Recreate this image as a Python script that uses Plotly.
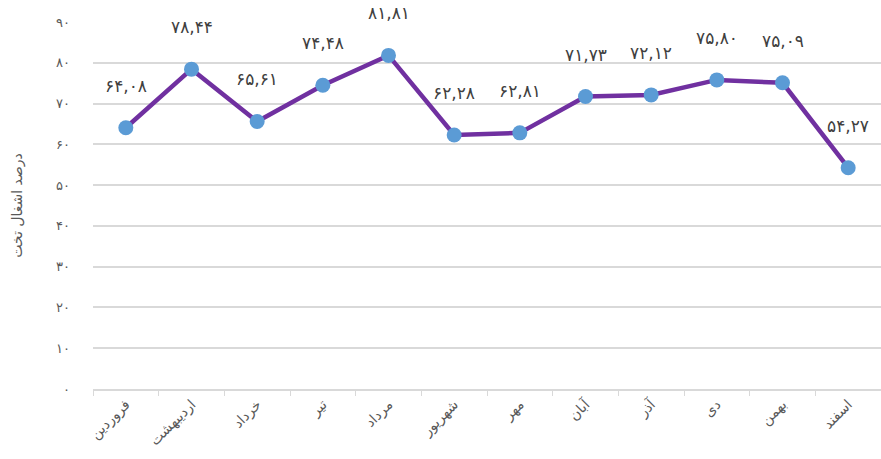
import plotly.graph_objects as go

months = ["فروردین", "اردیبهشت", "خرداد", "تیر", "مرداد", "شهریور",
          "مهر", "آبان", "آذر", "دی", "بهمن", "اسفند"]
occupancy = [64.08, 78.44, 65.61, 74.48, 81.81, 62.28,
             62.81, 71.73, 72.12, 75.80, 75.09, 54.27]
y_ticks = [0, 10, 20, 30, 40, 50, 60, 70, 80, 90]
y_title = "درصد اشغال تخت"

FA = str.maketrans("0123456789", "۰۱۲۳۴۵۶۷۸۹")


def fa(s):
    return str(s).translate(FA)


labels = [fa(f"{v:.2f}".replace(".", ",")) for v in occupancy]

fig = go.Figure()
fig.add_trace(go.Scatter(
    x=months, y=occupancy, mode="lines+markers",
    line=dict(color="#7030A0", width=4.5),
    marker=dict(color="#5B9BD5", size=15, line=dict(width=0)),
    hoverinfo="skip", cliponaxis=False,
))

for m, v, t in zip(months, occupancy, labels):
    fig.add_annotation(x=m, y=v, text=t, showarrow=False, yshift=42,
                       font=dict(family="DejaVu Sans", size=17, color="#404040"))

fig.update_layout(
    width=881, height=459,
    margin=dict(l=93, r=0, t=22, b=70),
    paper_bgcolor="white", plot_bgcolor="white",
    showlegend=False,
    font=dict(family="DejaVu Sans", color="#595959"),
)
fig.update_xaxes(
    automargin=False,
    range=[-0.5, len(months) - 0.5],
    tickangle=-45, tickfont=dict(size=14, color="#595959"),
    showline=True, linecolor="#D9D9D9", linewidth=1.5,
    ticks="outside", tickson="boundaries", ticklen=5, tickcolor="#D9D9D9",
    showgrid=False,
)
fig.update_yaxes(
    automargin=False,
    range=[0, 90], tickvals=y_ticks, ticktext=[fa(v) for v in y_ticks],
    tickfont=dict(size=13, color="#595959"),
    showgrid=True, gridcolor="#D9D9D9", gridwidth=1.5,
    zeroline=False, showline=False, ticklabelstandoff=22,
    title=dict(text=y_title, font=dict(size=14, color="#595959"), standoff=30),
)

fig.write_html(
    "out.html",
    config={"displayModeBar": False},
    post_script="document.body.style.margin='0';document.body.style.overflow='hidden';",
)
